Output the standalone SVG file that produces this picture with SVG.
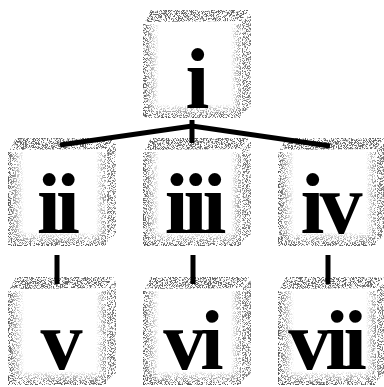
<svg xmlns="http://www.w3.org/2000/svg" width="384" height="387" viewBox="0 0 384 387">
<defs>
<filter id="grain" x="-5%" y="-5%" width="110%" height="110%">
<feTurbulence type="fractalNoise" baseFrequency="1.4 0.7" numOctaves="2" seed="11" result="n"/>
<feColorMatrix in="n" type="matrix" values="0 0 0 0 0  0 0 0 0 0  0 0 0 0 0  9 0 0 0 -4.3" result="m"/>
<feComposite in="SourceGraphic" in2="m" operator="in"/>
</filter>
<linearGradient id="gl" x1="0" y1="0" x2="1" y2="0">
<stop offset="0" stop-color="#555" stop-opacity="1"/>
<stop offset="1" stop-color="#555" stop-opacity="0"/>
</linearGradient>
<linearGradient id="gr" x1="1" y1="0" x2="0" y2="0">
<stop offset="0" stop-color="#666" stop-opacity="0.8"/>
<stop offset="1" stop-color="#666" stop-opacity="0"/>
</linearGradient>
<linearGradient id="gb" x1="0" y1="1" x2="0" y2="0">
<stop offset="0" stop-color="#555" stop-opacity="1"/>
<stop offset="1" stop-color="#555" stop-opacity="0"/>
</linearGradient>
<g id="cube">
<polygon points="8,0 106,0 98,11 2,12" fill="#666"/>
<rect x="0" y="14" width="16" height="94" fill="url(#gl)"/>
<rect x="0" y="94" width="98" height="14" fill="url(#gb)"/>
<rect x="88" y="14" width="10" height="90" fill="url(#gr)"/>
<polygon points="99,12 108,3 108,96 99,104" fill="#777"/>
</g>
</defs>
<style>
.lbl{font-family:"Liberation Serif","DejaVu Serif",serif;font-weight:bold;font-size:86px;fill:#000;text-anchor:middle;letter-spacing:-5px}
.cn{stroke:#000;stroke-width:5;fill:none;stroke-linecap:butt}
</style>
<g filter="url(#grain)">
<use href="#cube" x="143" y="10"/>
<use href="#cube" x="8" y="138"/>
<use href="#cube" x="143" y="138"/>
<use href="#cube" x="278" y="138"/>
<use href="#cube" x="8" y="277"/>
<use href="#cube" x="143" y="277"/>
<use href="#cube" x="278" y="277"/>
</g>
<g id="connectors">
<polyline class="cn" points="60,145 192,126 330,146"/>
<line class="cn" x1="192" y1="120" x2="192" y2="143"/>
<line class="cn" x1="57" y1="255" x2="57" y2="284"/>
<line class="cn" x1="193" y1="255" x2="193" y2="284"/>
<line class="cn" x1="328" y1="255" x2="328" y2="284"/>
</g>
<g id="n1"><text class="lbl" x="195" y="108">i</text></g>
<g id="n2"><text class="lbl" x="56" y="233">ii</text></g>
<g id="n3"><text class="lbl" x="193" y="233">iii</text></g>
<g id="n4"><text class="lbl" x="329" y="233">iv</text></g>
<g id="n5"><text class="lbl" x="59" y="369" style="font-size:84px">v</text></g>
<g id="n6"><text class="lbl" x="191" y="369" style="font-size:84px">vi</text></g>
<g id="n7"><text class="lbl" x="325" y="369" style="font-size:84px">vii</text></g>
</svg>
